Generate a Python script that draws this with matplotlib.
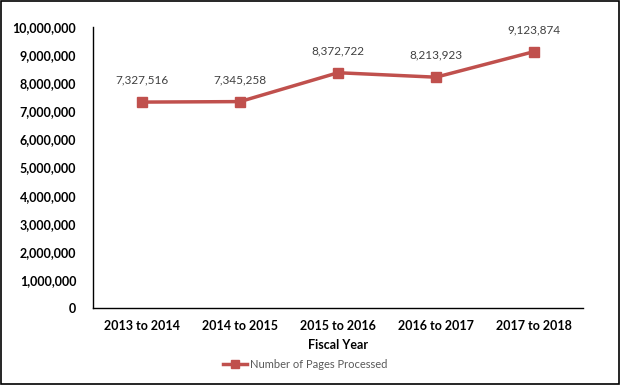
import matplotlib.pyplot as plt
from matplotlib.patches import Rectangle
from matplotlib.ticker import FuncFormatter

years = ['2013 to 2014', '2014 to 2015', '2015 to 2016', '2016 to 2017', '2017 to 2018']
pages = [7327516, 7345258, 8372722, 8213923, 9123874]

RED = '#C0504D'

plt.rcParams['font.family'] = ['Lato', 'DejaVu Sans']

fig = plt.figure(figsize=(6.2, 3.85), dpi=100)
ax = fig.add_axes([93 / 620, 1 - 308 / 385, 490 / 620, (308 - 27) / 385])

x = list(range(len(years)))
ax.plot(x, pages, color=RED, linewidth=2.5, marker='s', markersize=7,
        label='Number of Pages Processed')

for xi, v in zip(x, pages):
    ax.annotate(f'{v:,}', (xi, v), xytext=(0, 12), textcoords='offset points',
                ha='center', va='bottom', fontsize=8.5, color='#404040')

ax.set_xlim(-0.5, len(years) - 0.5)
ax.set_ylim(0, 10000000)
ax.set_yticks(range(0, 10000001, 1000000))
ax.yaxis.set_major_formatter(FuncFormatter(lambda v, p: f'{int(v):,}'))
ax.set_xticks(x)
ax.set_xticklabels(years)
for lab in ax.get_xticklabels() + ax.get_yticklabels():
    lab.set_fontweight('bold')
    lab.set_fontsize(9)
ax.tick_params(axis='both', length=0, colors='black')
ax.tick_params(axis='y', pad=12)
ax.tick_params(axis='x', pad=9)

ax.set_xlabel('Fiscal Year', fontweight='bold', fontsize=9, labelpad=5)

for s in ['top', 'right']:
    ax.spines[s].set_visible(False)
ax.spines['left'].set_linewidth(1)
ax.spines['bottom'].set_linewidth(1)

fig.legend(loc='center', bbox_to_anchor=(305 / 620, 1 - 364 / 385), frameon=False,
           fontsize=8, labelcolor='#595959', handlelength=2.2, handletextpad=0.2,
           markerscale=0.75)

fig.patches.append(Rectangle((0.001, 0.002), 0.997, 0.996, transform=fig.transFigure,
                             fill=False, edgecolor='black', linewidth=1.2))

fig.savefig('out.png', dpi=100)
